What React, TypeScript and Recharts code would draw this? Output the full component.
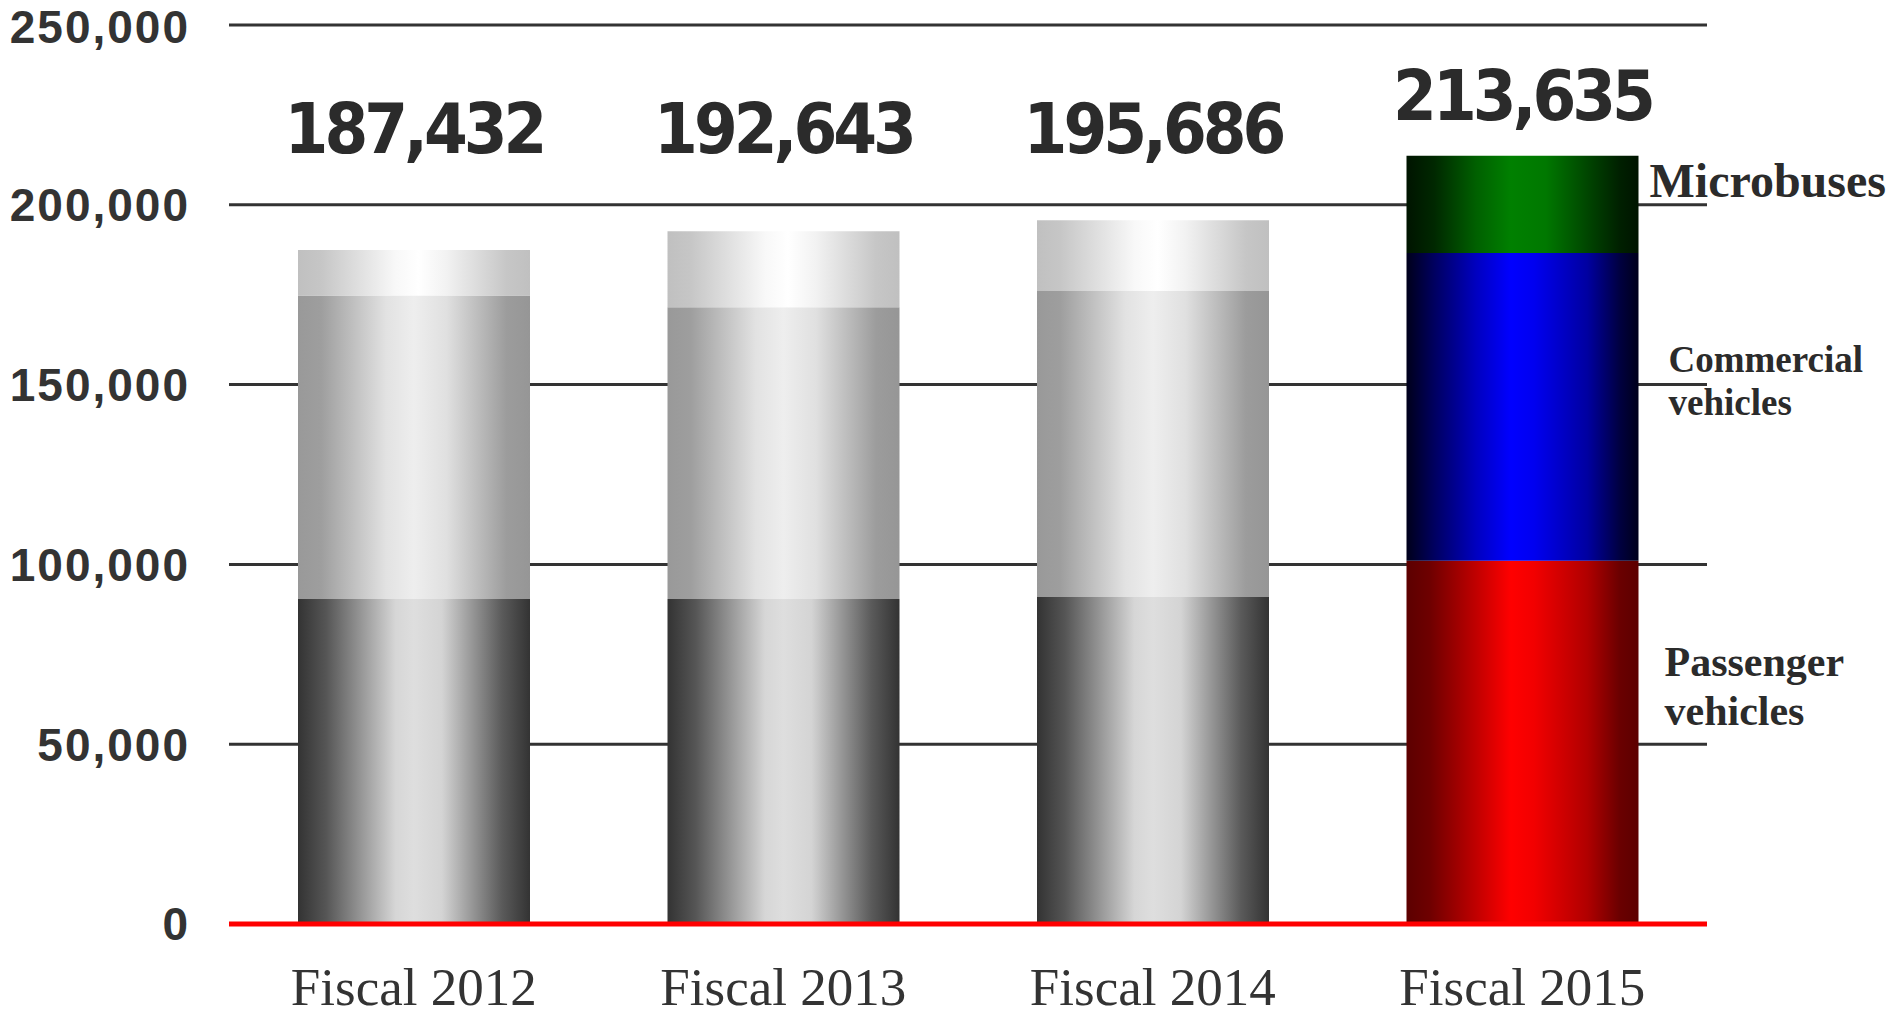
import { BarChart, Bar, XAxis, YAxis, CartesianGrid, Cell, LabelList } from 'recharts'

const years = ['Fiscal 2012', 'Fiscal 2013', 'Fiscal 2014', 'Fiscal 2015']
const passenger = [90400, 90400, 90900, 101000]
const commercial = [84400, 81100, 85100, 85600]
const microbuses = [12632, 21143, 19686, 27035]
const totals = [187432, 192643, 195686, 213635]
const yTicks = [0, 50000, 100000, 150000, 200000, 250000]

const passengerName = ['Passenger', 'vehicles']
const commercialName = ['Commercial', 'vehicles']
const microbusName = ['Microbuses']

const data = years.map((year, i) => ({
  year,
  passenger: passenger[i],
  commercial: commercial[i],
  microbuses: microbuses[i],
}))

const last = years.length - 1
const textColor = '#2b2b2b'

function fmt(v: number) {
  return v.toLocaleString('en-US')
}

function TotalLabel(props: any) {
  const { x, y, width, index } = props
  const cx = Number(x) + Number(width) / 2
  // the last bar's total sits just over its bar, the others share one row
  const baseline = index === last ? Number(y) - 36 : 153
  return (
    <text
      x={cx}
      y={baseline}
      textAnchor="middle"
      fill={textColor}
      fontFamily='"DejaVu Sans Condensed", "DejaVu Sans", sans-serif'
      fontWeight="bold"
      fontSize={70}
      letterSpacing={-4}
    >
      {fmt(totals[index])}
    </text>
  )
}

function seriesLabel(lines: string[], size: number, dx: number, dy: number, gap: number) {
  return (props: any) => {
    if (props.index !== last) return null
    const x = Number(props.x) + Number(props.width) + dx
    const y = Number(props.y) + Number(props.height) / 2 + dy
    return (
      <text
        fill={textColor}
        fontFamily='"Liberation Serif", "Times New Roman", serif'
        fontWeight="bold"
        fontSize={size}
      >
        {lines.map((line, i) => (
          <tspan key={line} x={x} y={y + i * gap}>
            {line}
          </tspan>
        ))}
      </text>
    )
  }
}

function Gradient({ id, stops }: { id: string; stops: [number, string][] }) {
  return (
    <linearGradient id={id} x1="0" y1="0" x2="1" y2="0">
      {stops.map(([o, c]) => (
        <stop key={o} offset={o} stopColor={c} />
      ))}
    </linearGradient>
  )
}

export default function App() {
  return (
    <div style={{ position: 'absolute', left: 0, top: 0, background: '#fff' }}>
      <BarChart
        width={1893}
        height={1014}
        data={data}
        margin={{ top: 25, right: 186, bottom: 0, left: 0 }}
        barSize={232}
      >
        <defs>
          <Gradient
            id="gPass"
            stops={[[0, '#333'], [0.12, '#555'], [0.42, '#d6d6d6'], [0.5, '#dedede'], [0.62, '#d4d4d4'], [0.88, '#5a5a5a'], [1, '#333']]}
          />
          <Gradient
            id="gComm"
            stops={[[0, '#999'], [0.1, '#9e9e9e'], [0.38, '#e2e2e2'], [0.5, '#eeeeee'], [0.64, '#e0e0e0'], [0.9, '#9c9c9c'], [1, '#969696']]}
          />
          <Gradient
            id="gMicro"
            stops={[[0, '#c0c0c0'], [0.1, '#c6c6c6'], [0.42, '#f8f8f8'], [0.52, '#ffffff'], [0.64, '#f2f2f2'], [0.9, '#c6c6c6'], [1, '#c0c0c0']]}
          />
          <Gradient
            id="gRed"
            stops={[[0, '#5c0000'], [0.1, '#6e0000'], [0.3, '#c00000'], [0.45, '#ff0000'], [0.55, '#f20000'], [0.78, '#b00000'], [0.92, '#6a0000'], [1, '#5c0000']]}
          />
          <Gradient
            id="gBlue"
            stops={[[0, '#00001a'], [0.12, '#000060'], [0.3, '#0000c0'], [0.45, '#0000ff'], [0.55, '#0000f0'], [0.78, '#0000a0'], [0.92, '#000040'], [1, '#00001a']]}
          />
          <Gradient
            id="gGreen"
            stops={[[0, '#001400'], [0.12, '#002800'], [0.3, '#006000'], [0.45, '#008000'], [0.6, '#007800'], [0.8, '#004000'], [0.92, '#002000'], [1, '#001400']]}
          />
        </defs>
        <CartesianGrid horizontal vertical={false} stroke="#333" strokeWidth={3} />
        <XAxis
          dataKey="year"
          height={90}
          interval={0}
          tickSize={0}
          tickMargin={43}
          axisLine={{ stroke: '#ff0000', strokeWidth: 5 }}
          tickLine={false}
          tick={{
            fontSize: 53,
            fill: '#333',
            fontFamily: '"Liberation Serif", "Times New Roman", serif',
          }}
        />
        <YAxis
          domain={[0, 250000]}
          ticks={yTicks}
          width={229}
          tickSize={0}
          tickMargin={39}
          axisLine={false}
          tickLine={false}
          tickFormatter={(v: number) => fmt(v)}
          tick={{
            fontSize: 46,
            fontWeight: 'bold',
            fill: '#333',
            letterSpacing: 2,
            fontFamily: '"Liberation Sans", Arial, sans-serif',
          }}
        />
        <Bar dataKey="passenger" stackId="a" isAnimationActive={false}>
          {data.map((d, i) => (
            <Cell key={d.year} fill={i === last ? 'url(#gRed)' : 'url(#gPass)'} />
          ))}
          <LabelList content={seriesLabel(passengerName, 42, 26, -66, 49)} />
        </Bar>
        <Bar dataKey="commercial" stackId="a" isAnimationActive={false}>
          {data.map((d, i) => (
            <Cell key={d.year} fill={i === last ? 'url(#gBlue)' : 'url(#gComm)'} />
          ))}
          <LabelList content={seriesLabel(commercialName, 37, 30, -35, 43)} />
        </Bar>
        <Bar dataKey="microbuses" stackId="a" isAnimationActive={false}>
          {data.map((d, i) => (
            <Cell key={d.year} fill={i === last ? 'url(#gGreen)' : 'url(#gMicro)'} />
          ))}
          <LabelList content={TotalLabel} />
          <LabelList content={seriesLabel(microbusName, 48, 11, -7, 0)} />
        </Bar>
      </BarChart>
    </div>
  )
}
